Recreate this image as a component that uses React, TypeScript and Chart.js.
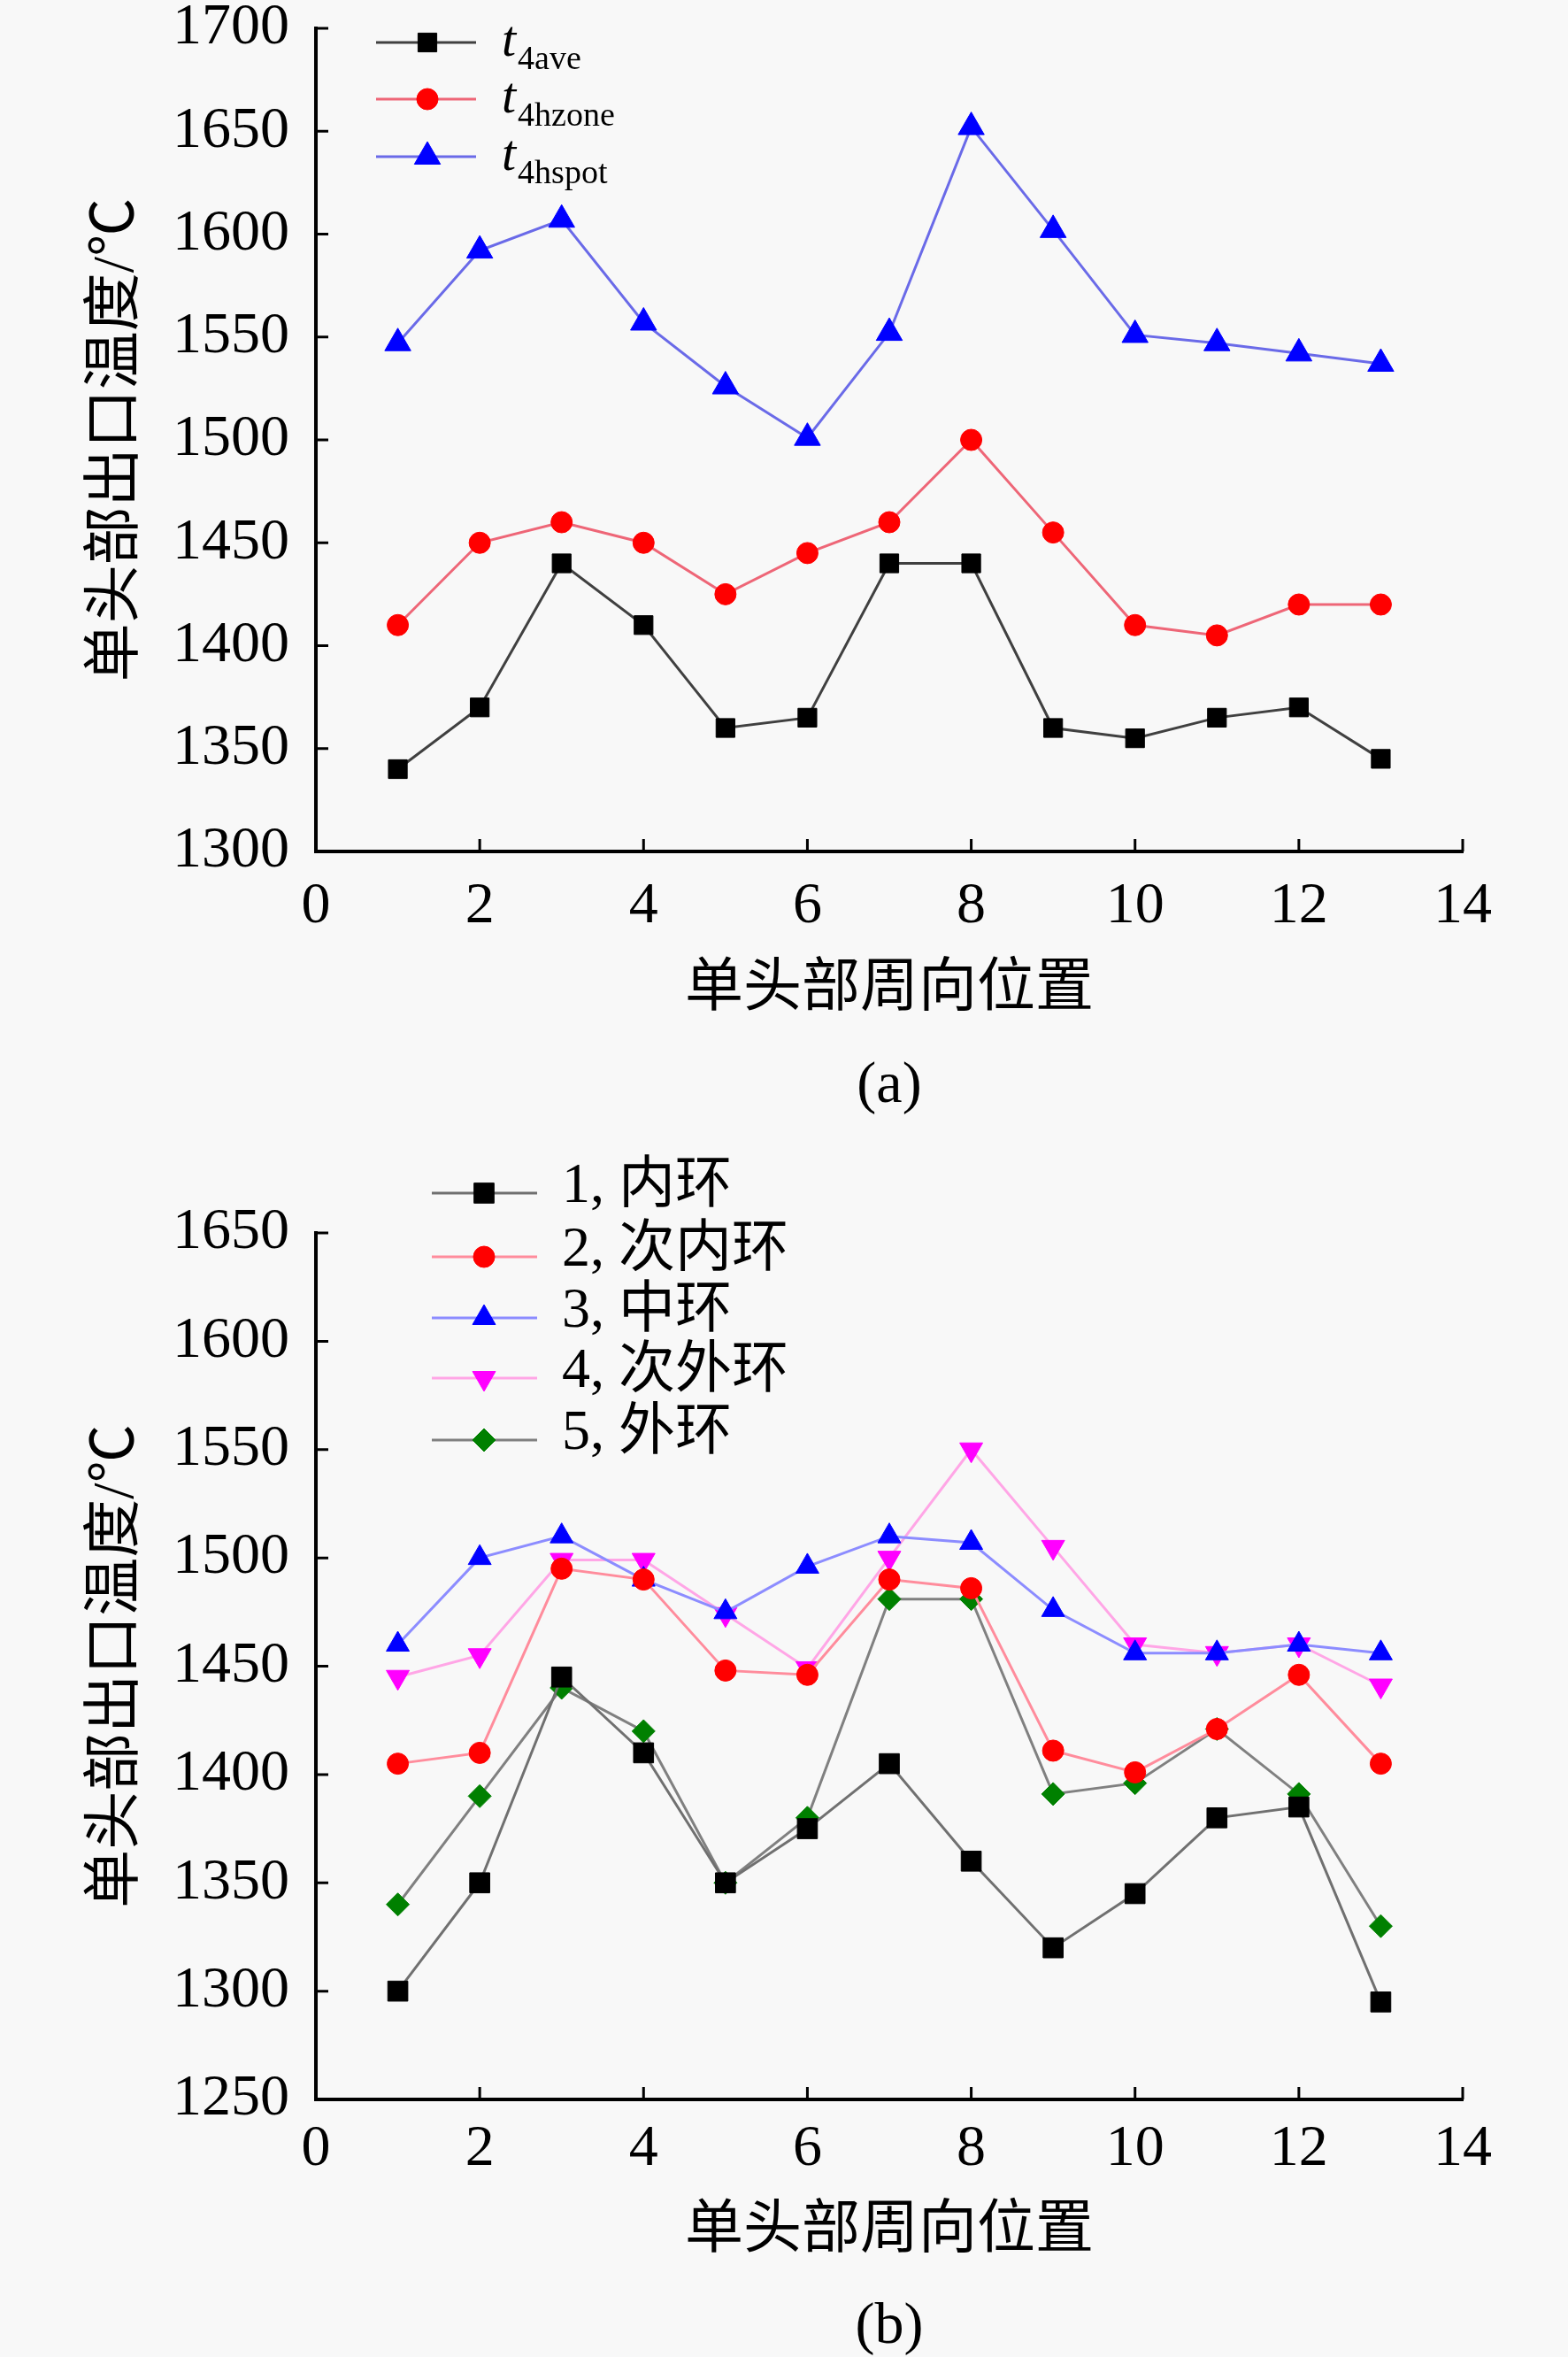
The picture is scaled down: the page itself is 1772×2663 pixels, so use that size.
import { useEffect, useRef } from "react";
import Chart from "chart.js/auto";
import { drawPoint } from "chart.js/helpers";

// ─── Data ─────────────────────────────────────────────────────────────────────
const positions = [1, 2, 3, 4, 5, 6, 7, 8, 9, 10, 11, 12, 13];

// (a)
const t4ave   = [1340, 1370, 1440, 1410, 1360, 1365, 1440, 1440, 1360, 1355, 1365, 1370, 1345];
const t4hzone = [1410, 1450, 1460, 1450, 1425, 1445, 1460, 1500, 1455, 1410, 1405, 1420, 1420];
const t4hspot = [1547, 1592, 1607, 1557, 1526, 1501, 1552, 1652, 1602, 1551, 1547, 1542, 1537];

// (b)
const ring1 = [1300, 1350, 1445, 1410, 1350, 1375, 1405, 1360, 1320, 1345, 1380, 1385, 1295];
const ring2 = [1405, 1410, 1495, 1490, 1448, 1446, 1490, 1486, 1411, 1401, 1421, 1446, 1405];
const ring3 = [1460, 1500, 1510, 1490, 1475, 1496, 1510, 1507, 1476, 1456, 1456, 1460, 1456];
const ring4 = [1445, 1455, 1499, 1499, 1474, 1449, 1500, 1550, 1505, 1460, 1456, 1460, 1441];
const ring5 = [1340, 1390, 1440, 1420, 1350, 1380, 1481, 1481, 1391, 1396, 1421, 1391, 1330];

const labelsA = ["t4ave", "t4hzone", "t4hspot"];
const labelsB = ["1, 内环", "2, 次内环", "3, 中环", "4, 次外环", "5, 外环"];

const xTitle = "单头部周向位置";
const yTitle = "单头部出口温度/℃";

// ─── Style ────────────────────────────────────────────────────────────────────
const FONT = `"Liberation Serif", "Noto Sans CJK SC", serif`;
const BG = "#f8f8f8";

const pts = (ys: number[]) => ys.map((y, i) => ({ x: positions[i], y }));

// inward tick marks on the left and bottom axes
const innerTicks = {
  id: "innerTicks",
  beforeDatasetsDraw(chart: any) {
    const { ctx, chartArea: a, scales } = chart;
    ctx.save();
    ctx.strokeStyle = "#000";
    ctx.lineWidth = 3;
    ctx.beginPath();
    scales.x.ticks.forEach((t: any) => {
      const px = scales.x.getPixelForValue(t.value);
      ctx.moveTo(px, a.bottom);
      ctx.lineTo(px, a.bottom - 14);
    });
    scales.y.ticks.forEach((t: any) => {
      const py = scales.y.getPixelForValue(t.value);
      ctx.moveTo(a.left, py);
      ctx.lineTo(a.left + 14, py);
    });
    ctx.stroke();
    ctx.restore();
  },
};

// legend drawn by hand (needs subscripts in panel a)
const seriesLegend = {
  id: "seriesLegend",
  afterDraw(chart: any, _args: any, opts: any) {
    const { ctx } = chart;
    chart.data.datasets.forEach((ds: any, i: number) => {
      const y = opts.rows[i];
      ctx.save();
      ctx.strokeStyle = ds.borderColor;
      ctx.lineWidth = ds.borderWidth;
      ctx.beginPath();
      ctx.moveTo(opts.lineFrom, y);
      ctx.lineTo(opts.lineTo, y);
      ctx.stroke();

      ctx.fillStyle = ds.pointBackgroundColor;
      ctx.strokeStyle = ds.pointBorderColor;
      ctx.lineWidth = 1;
      drawPoint(ctx, { pointStyle: ds.pointStyle, radius: ds.pointRadius, rotation: ds.pointRotation || 0, borderWidth: 1 }, opts.markerX, y);

      ctx.fillStyle = "#000";
      ctx.textAlign = "left";
      if (opts.sub) {
        ctx.textBaseline = "alphabetic";
        ctx.font = `italic ${opts.size}px ${FONT}`;
        const head = ds.label.slice(0, 1);
        ctx.fillText(head, opts.textX, y + 15);
        const w = ctx.measureText(head).width;
        ctx.font = `${opts.subSize}px ${FONT}`;
        ctx.fillText(ds.label.slice(1), opts.textX + w + 2, y + 30);
      } else {
        ctx.textBaseline = "middle";
        ctx.font = `${opts.size}px ${FONT}`;
        ctx.fillText(ds.label, opts.textX, y - 7);
      }
      ctx.restore();
    });
  },
};

function line(label: string, data: number[], lineColor: string, markColor: string, style: string, radius: number, rotation = 0) {
  return {
    label,
    data: pts(data),
    borderColor: lineColor,
    borderWidth: 3,
    pointStyle: style,
    pointRadius: radius,
    pointRotation: rotation,
    pointBackgroundColor: markColor,
    pointBorderColor: markColor,
    pointBorderWidth: 1,
    tension: 0,
    clip: false,
  };
}

function makeOptions(p: {
  yMin: number; yMax: number; padTop: number; xHeight: number; xTickPad: number; legend: any;
}) {
  return {
    animation: false,
    responsive: true,
    maintainAspectRatio: false,
    layout: { padding: { top: p.padTop, right: 119, left: 0, bottom: 0 } },
    plugins: {
      legend: { display: false },
      tooltip: { enabled: false },
      seriesLegend: p.legend,
    },
    scales: {
      x: {
        type: "linear",
        min: 0,
        max: 14,
        grid: { display: false },
        border: { display: true, color: "#000", width: 4 },
        ticks: { stepSize: 2, color: "#000", padding: p.xTickPad, font: { family: FONT, size: 66, lineHeight: 1 }, callback: (v: any) => `${v}` },
        title: { display: true, text: xTitle, color: "#000", padding: 0, font: { family: FONT, size: 66, lineHeight: 1 } },
        afterFit: (s: any) => { s.height = p.xHeight; s.paddingLeft = 0; s.paddingRight = 0; },
      },
      y: {
        min: p.yMin,
        max: p.yMax,
        grid: { display: false },
        border: { display: true, color: "#000", width: 4 },
        ticks: { stepSize: 50, color: "#000", padding: 22, font: { family: FONT, size: 66, lineHeight: 1 }, callback: (v: any) => `${v}` },
        title: { display: true, text: yTitle, color: "#000", padding: { top: 100, bottom: 0 }, font: { family: FONT, size: 66, lineHeight: 1 } },
        afterFit: (s: any) => { s.width = 357; s.paddingTop = 0; s.paddingBottom = 0; },
      },
    },
  };
}

// ─── Component ────────────────────────────────────────────────────────────────
export default function App() {
  const refA = useRef<HTMLCanvasElement | null>(null);
  const refB = useRef<HTMLCanvasElement | null>(null);

  useEffect(() => {
    if (!refA.current || !refB.current) return;

    const chartA = new Chart(refA.current, {
      type: "line",
      data: {
        datasets: [
          line(labelsA[0], t4ave, "#404040", "#000000", "rect", 15),
          line(labelsA[1], t4hzone, "#ee6677", "#ff0000", "circle", 12),
          line(labelsA[2], t4hspot, "#6a6ae8", "#0000ff", "triangle", 17),
        ] as any,
      },
      options: makeOptions({
        yMin: 1300, yMax: 1700, padTop: 32, xHeight: 190, xTickPad: 22,
        legend: { rows: [48, 112, 177], lineFrom: 425, lineTo: 538, markerX: 483, textX: 567, sub: true, size: 58, subSize: 38 },
      }) as any,
      plugins: [innerTicks, seriesLegend],
    });

    const chartB = new Chart(refB.current, {
      type: "line",
      data: {
        datasets: [
          line(labelsB[0], ring1, "#707070", "#000000", "rect", 16),
          line(labelsB[1], ring2, "#ff8c9c", "#ff0000", "circle", 12),
          line(labelsB[2], ring3, "#8c8cff", "#0000ff", "triangle", 15),
          line(labelsB[3], ring4, "#ffa6e6", "#ff00ff", "triangle", 15, 180),
          line(labelsB[4], ring5, "#808080", "#008000", "rectRot", 13),
        ] as any,
      },
      options: makeOptions({
        yMin: 1250, yMax: 1650, padTop: 123, xHeight: 183, xTickPad: 16,
        legend: { rows: [78, 150, 219, 287, 357], lineFrom: 488, lineTo: 607, markerX: 547, textX: 635, sub: false, size: 64 },
      }) as any,
      plugins: [innerTicks, seriesLegend],
    });

    return () => { chartA.destroy(); chartB.destroy(); };
  }, []);

  const caption = (top: number, text: string) => (
    <div style={{ position: "absolute", left: 905, width: 200, top, height: 66, lineHeight: "66px", fontSize: 66, textAlign: "center", fontFamily: FONT, color: "#000" }}>
      {text}
    </div>
  );

  return (
    <>
      <style>{`body { margin: 0; background: ${BG}; }`}</style>
      <div style={{ position: "relative", width: 1772, height: 2663, background: BG, overflow: "hidden" }}>
        <div style={{ position: "absolute", left: 0, top: 0, width: 1772, height: 1152 }}>
          <canvas ref={refA} />
        </div>
        {caption(1190, "(a)")}
        <div style={{ position: "absolute", left: 0, top: 1270, width: 1772, height: 1285 }}>
          <canvas ref={refB} />
        </div>
        {caption(2592, "(b)")}
      </div>
    </>
  );
}
